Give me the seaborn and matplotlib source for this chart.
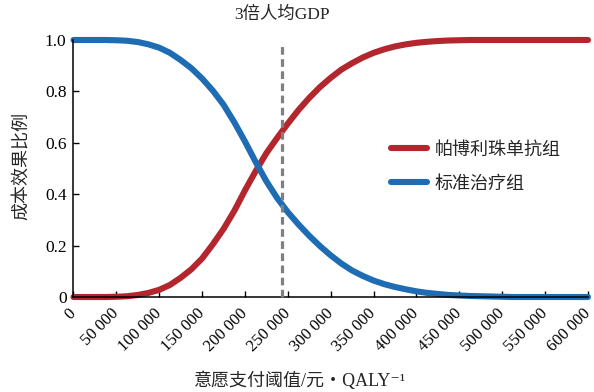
import numpy as np
import pandas as pd
import matplotlib
matplotlib.use("Agg")
import matplotlib.pyplot as plt
import matplotlib.transforms as mtransforms
import seaborn as sns

# Willingness-to-pay thresholds (元/QALY)
wtp = [0, 12500, 25000, 37500, 50000, 62500, 75000, 87500, 100000,
       112500, 125000, 137500, 150000, 162500, 175000, 187500, 200000,
       212500, 225000, 237500, 250000, 262500, 275000, 287500, 300000,
       312500, 325000, 337500, 350000, 362500, 375000, 387500, 400000,
       412500, 425000, 437500, 450000, 462500, 475000, 487500, 500000,
       512500, 525000, 537500, 550000, 562500, 575000, 587500, 600000]

# Probability of being cost-effective for each strategy
pembro = [0.000, 0.000, 0.000, 0.000, 0.001, 0.003, 0.008, 0.016, 0.028,
          0.047, 0.075, 0.108, 0.150, 0.205, 0.265, 0.335, 0.415,
          0.490, 0.560, 0.619, 0.675, 0.728, 0.775, 0.817, 0.853,
          0.885, 0.910, 0.932, 0.950, 0.964, 0.975, 0.983, 0.989,
          0.993, 0.996, 0.998, 0.999, 1.000, 1.000, 1.000, 1.000,
          1.000, 1.000, 1.000, 1.000, 1.000, 1.000, 1.000, 1.000]
standard = [1.000, 1.000, 1.000, 1.000, 0.999, 0.997, 0.992, 0.983, 0.970,
            0.950, 0.922, 0.890, 0.850, 0.803, 0.748, 0.680, 0.605,
            0.525, 0.450, 0.385, 0.330, 0.282, 0.238, 0.198, 0.162,
            0.130, 0.103, 0.082, 0.064, 0.050, 0.039, 0.030, 0.022,
            0.016, 0.012, 0.008, 0.006, 0.004, 0.003, 0.002, 0.001,
            0.000, 0.000, 0.000, 0.000, 0.000, 0.000, 0.000, 0.000]

series_names = ["帕博利珠单抗组", "标准治疗组"]
series_colors = ["#B3262E", "#1E6DB4"]

threshold = 242928          # 3 × GDP per capita
threshold_label = "3倍人均GDP"

xticks = [0, 50000, 100000, 150000, 200000, 250000, 300000,
          350000, 400000, 450000, 500000, 550000, 600000]
xticklabels = ["0", "50 000", "100 000", "150 000", "200 000", "250 000",
               "300 000", "350 000", "400 000", "450 000", "500 000",
               "550 000", "600 000"]
yticks = [0, 0.2, 0.4, 0.6, 0.8, 1.0]
yticklabels = ["0", "0.2", "0.4", "0.6", "0.8", "1.0"]

xlabel = "意愿支付阈值/元・QALY⁻¹"
ylabel = "成本效果比例"

df = pd.DataFrame({
    "wtp": wtp * 2,
    "prob": pembro + standard,
    "group": [series_names[0]] * len(wtp) + [series_names[1]] * len(wtp),
})

sns.set_style("ticks")
fam = ["Liberation Serif", "Noto Sans CJK SC", "DejaVu Serif"]
plt.rcParams["font.family"] = fam
plt.rcParams["axes.unicode_minus"] = False

fig = plt.figure(figsize=(5.94, 3.92), dpi=100)
ax = fig.add_axes([0.1237, 0.2423, 0.8662, 0.6557])

sns.lineplot(data=df, x="wtp", y="prob", hue="group",
             hue_order=series_names, palette=series_colors,
             linewidth=4.4, ax=ax, legend=True, clip_on=False,
             solid_capstyle="round", solid_joinstyle="round")

ax.set_xlim(0, 600000)
ax.set_ylim(0, 1.0)

# threshold marker
ax.plot([threshold, threshold], [0, 0.988], color="#808080", lw=2.3,
        dashes=(2.4, 1.4), clip_on=False, zorder=5)
trans = mtransforms.blended_transform_factory(ax.transData, ax.transAxes)
ax.text(threshold, 1.097, threshold_label, transform=trans, ha="center",
        va="center", fontsize=12.5, family=fam)

ax.set_xticks(xticks)
ax.set_xticklabels(xticklabels, rotation=45, ha="right", va="center",
                   rotation_mode="anchor", fontsize=12, family=fam)
ax.set_yticks(yticks)
ax.set_yticklabels(yticklabels, fontsize=12.5, family=fam)
ax.tick_params(axis="both", direction="in", length=4, width=1,
               colors="black")
ax.tick_params(axis="x", pad=10)
ax.tick_params(axis="y", pad=5)

for side in ["top", "right"]:
    ax.spines[side].set_visible(False)
for side in ["left", "bottom"]:
    ax.spines[side].set_linewidth(1.1)
    ax.spines[side].set_color("black")

ax.set_xlabel(xlabel, fontsize=13, family=fam)
ax.set_ylabel(ylabel, fontsize=13, family=fam)
ax.xaxis.set_label_coords(0.44, -0.29)
ax.yaxis.set_label_coords(-0.083, 0.51)

handles, labels = ax.get_legend_handles_labels()
for h in handles:
    h.set_linewidth(4.4)
ax.legend(handles, labels, loc="center left", bbox_to_anchor=(0.585, 0.505),
          frameon=False, handlelength=2.0, handletextpad=0.45,
          labelspacing=0.95, prop={"family": fam, "size": 13})

fig.savefig("out.png", dpi=100)
